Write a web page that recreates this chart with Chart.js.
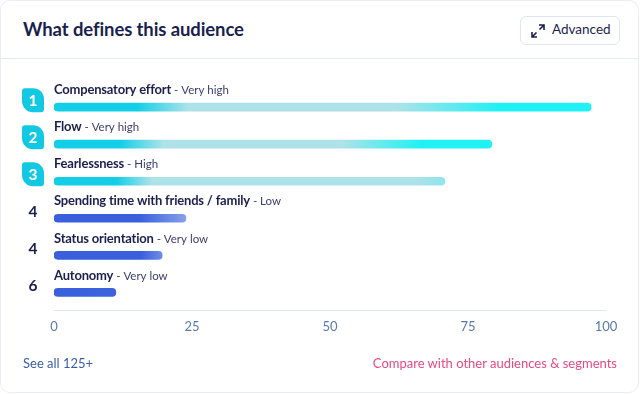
<!DOCTYPE html>
<html>
<head>
<meta charset="utf-8">
<script src="https://cdn.jsdelivr.net/npm/chart.js@4.4.1/dist/chart.umd.min.js"></script>
<style>
  html, body { margin:0; padding:0; width:640px; height:394px; background:#fff; overflow:hidden; font-family: Lato, "Noto Sans", sans-serif; }
  .card { position:absolute; left:0; top:0; width:637px; height:391px; border:1px solid #eaedf5; border-radius:10px; box-sizing:content-box; }
  .header { position:absolute; left:0; top:0; width:637px; height:57px; border-bottom:1px solid #e6eaf6; }
  .title { position:absolute; left:22px; top:17px; font-size:18.5px; font-weight:700; color:#1b1f4e; letter-spacing:-0.1px; }
  .btn { position:absolute; left:519px; top:15px; width:98px; height:27px; border:1px solid #dfe5f5; border-radius:6px; }
  .btn span { position:absolute; left:31px; top:4px; font-size:13.5px; color:#1b1f4e; }
  .btn svg { position:absolute; left:10px; top:7px; }
  .wrap { position:absolute; left:0; top:0; width:640px; height:394px; }
  .link1 { position:absolute; left:23px; top:355px; font-size:13px; color:#3b5ea6; }
  .link2 { position:absolute; right:23px; top:355px; font-size:13px; color:#e84a82; }
</style>
</head>
<body>
<div class="card">
  <div class="header">
    <div class="title">What defines this audience</div>
    <div class="btn">
      <svg width="14" height="14" viewBox="0 0 14 14">
        <path d="M8 1 L13 1 L13 6 M13 1 L8.5 5.5" stroke="#1b1f4e" stroke-width="1.6" fill="none"/>
        <path d="M1 8 L1 13 L6 13 M1 13 L5.5 8.5" stroke="#1b1f4e" stroke-width="1.6" fill="none"/>
      </svg>
      <span>Advanced</span>
    </div>
  </div>
</div>
<div class="wrap"><canvas id="c" width="640" height="394"></canvas></div>
<div class="link1">See all 125+</div>
<div class="link2">Compare with other audiences &amp; segments</div>
<script>
const categories = ["Compensatory effort", "Flow", "Fearlessness", "Spending time with friends / family", "Status orientation", "Autonomy"];
const levels = ["Very high", "Very high", "High", "Low", "Very low", "Very low"];
const ranks = [1, 2, 3, 4, 4, 6];
const scores = [97.3, 79.3, 70.8, 23.9, 19.6, 11.2];
const tickValues = [0, 25, 50, 75, 100];

const gradStops = [
  [[0,'#12cfe7'],[0.155,'#12cfe7'],[0.25,'#ace2e8'],[0.64,'#ace2e8'],[0.83,'#20f1f4'],[1,'#20f1f4']],
  [[0,'#12cfe7'],[0.15,'#12cfe7'],[0.25,'#ace2e8'],[0.66,'#ace2e8'],[0.84,'#20f1f4'],[1,'#20f1f4']],
  [[0,'#12cfe7'],[0.16,'#12cfe7'],[0.25,'#ace2e8'],[0.93,'#ace2e8'],[1,'#8fe4ee']],
  [[0,'#3a5fdd'],[0.65,'#3a5fdd'],[1,'#86a0ea']],
  [[0,'#3a5fdd'],[0.8,'#3a5fdd'],[1,'#6f8ce6']],
  [[0,'#3a5fdd'],[1,'#3d62de']]
];

function barColor(ctx) {
  const chart = ctx.chart;
  if (!chart.chartArea || !chart.scales.x) return '#3a5fdd';
  const xs = chart.scales.x;
  const i = ctx.dataIndex;
  const x0 = xs.getPixelForValue(0);
  const x1 = xs.getPixelForValue(scores[i]);
  const g = chart.ctx.createLinearGradient(x0, 0, x1, 0);
  gradStops[i].forEach(s => g.addColorStop(s[0], s[1]));
  return g;
}

const labelPlugin = {
  id: 'labels',
  afterDatasetsDraw(chart) {
    const ctx = chart.ctx;
    const ys = chart.scales.y;
    const xs = chart.scales.x;
    const left = xs.getPixelForValue(0);
    ctx.save();
    categories.forEach((cat, i) => {
      const yc = ys.getPixelForValue(i);
      ctx.textBaseline = 'middle';
      ctx.textAlign = 'left';
      ctx.letterSpacing = '-0.2px';
      ctx.font = '700 13px Lato, "Noto Sans", sans-serif';
      ctx.fillStyle = '#1b1f4e';
      ctx.fillText(cat, left, yc - 17);
      const w = ctx.measureText(cat).width;
      ctx.letterSpacing = '0px';
      ctx.font = '400 11.5px Lato, "Noto Sans", sans-serif';
      ctx.fillStyle = '#3c4070';
      ctx.fillText(' - ' + levels[i], left + w, yc - 16.5);
      // rank
      const bx = 22, by = yc - 19, bw = 22, bh = 24;
      if (i < 3) {
        ctx.fillStyle = '#13c8e2';
        ctx.beginPath();
        ctx.roundRect(bx, by, bw, bh, [3, 11, 3, 11]);
        ctx.fill();
        ctx.fillStyle = '#ffffff';
      } else {
        ctx.fillStyle = '#1b1f4e';
      }
      ctx.font = '700 15.5px Lato, "Noto Sans", sans-serif';
      ctx.textAlign = 'center';
      ctx.fillText(String(ranks[i]), bx + bw / 2, by + bh / 2 + 1);
    });
    ctx.restore();
  }
};

new Chart(document.getElementById('c'), {
  type: 'bar',
  data: {
    labels: categories,
    datasets: [{
      data: scores,
      backgroundColor: barColor,
      borderRadius: 4,
      borderSkipped: false,
      barThickness: 8
    }]
  },
  options: {
    indexAxis: 'y',
    responsive: false,
    animation: false,
    events: [],
    layout: { padding: { left: 54, right: 34, top: 88.6, bottom: 51.5 } },
    plugins: { legend: { display: false }, tooltip: { enabled: false } },
    scales: {
      y: { display: false, offset: true },
      x: {
        min: 0, max: 100,
        afterBuildTicks(axis) { axis.ticks = tickValues.map(v => ({ value: v })); },
        grid: { display: false, drawTicks: false },
        border: { display: true, color: '#e3e7f2', width: 1 },
        ticks: { padding: 8, color: '#5a79ab', font: { family: 'Lato, "Noto Sans", sans-serif', size: 13 } }
      }
    }
  },
  plugins: [labelPlugin]
});
</script>
</body>
</html>
